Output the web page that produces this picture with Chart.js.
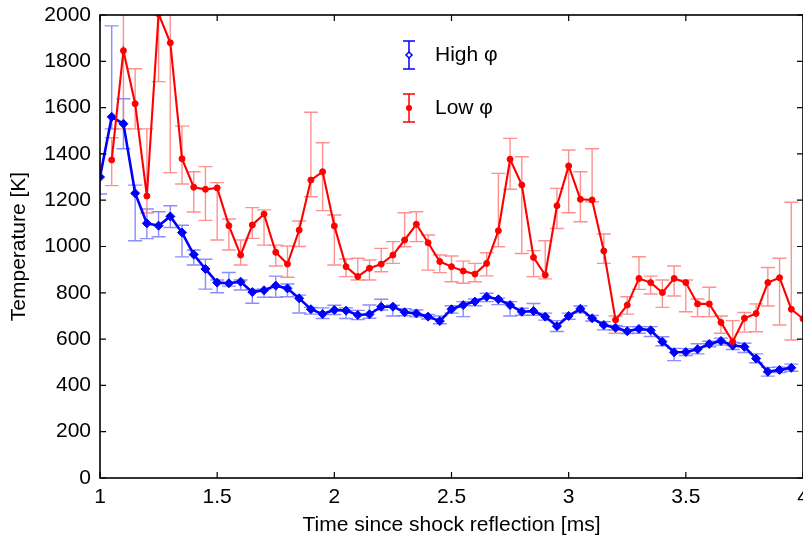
<!DOCTYPE html>
<html>
<head>
<meta charset="utf-8">
<script src="https://cdn.jsdelivr.net/npm/chart.js@4.4.1/dist/chart.umd.min.js"></script>
<style>
    html, body { margin: 0; padding: 0; background: #fff; overflow: hidden; }
    #wrap { position: relative; width: 823px; height: 543px; }
</style>
</head>
<body>
<div id="wrap"><canvas id="tempChart"></canvas></div>
<script>
// time since shock reflection [ms]
const times = [1.00,1.05,1.10,1.15,1.20,1.25,1.30,1.35,1.40,1.45,
               1.50,1.55,1.60,1.65,1.70,1.75,1.80,1.85,1.90,1.95,
               2.00,2.05,2.10,2.15,2.20,2.25,2.30,2.35,2.40,2.45,
               2.50,2.55,2.60,2.65,2.70,2.75,2.80,2.85,2.90,2.95,
               3.00,3.05,3.10,3.15,3.20,3.25,3.30,3.35,3.40,3.45,
               3.50,3.55,3.60,3.65,3.70,3.75,3.80,3.85,3.90,3.95,
               4.00];

// High phi temperature [K] and error bar extents
const highPhi = [1300,1560,1530,1230,1100,1090,1130,1060,965,903,
                 844,841,848,803,811,831,819,776,729,708,
                 726,723,704,707,740,740,716,711,697,678,
                 729,747,762,783,772,747,718,721,697,656,
                 700,731,690,661,649,634,644,638,589,543,
                 544,556,579,592,572,567,516,459,467,476,
                 null];
const highPlus = [100,393,108,35,62,60,46,32,20,42,
                  11,47,7,12,5,41,19,14,8,27,
                  20,12,20,40,32,6,15,15,10,22,
                  15,15,11,15,5,15,15,33,15,24,
                  12,12,12,14,10,20,10,16,21,17,
                  15,24,12,12,13,15,20,19,12,16,
                  null];
const highMinus = [73,52,108,205,66,48,48,105,45,87,
                   44,12,36,48,30,50,36,63,21,19,
                   20,34,20,17,14,40,15,15,10,12,
                   17,50,18,21,23,47,15,18,15,23,
                   14,17,12,21,10,10,19,27,18,36,
                   15,20,12,18,17,25,18,19,12,15,
                   null];

// Low phi temperature [K] and error bar extents
const lowPhi = [null,1374,1846,1617,1218,2005,1880,1379,1256,1247,
                1253,1090,963,1093,1140,975,924,1071,1287,1323,
                1089,913,870,906,924,963,1028,1096,1016,935,
                913,894,881,927,1068,1377,1266,953,877,1176,
                1348,1204,1201,981,683,747,862,844,801,862,
                844,752,752,672,589,690,711,844,865,729,
                688];
const lowPlus = [null,96,340,151,290,300,560,141,67,98,
                 23,29,65,75,18,31,78,39,293,125,
                 47,33,79,36,68,58,118,54,34,28,
                 46,43,46,46,248,90,122,29,148,75,
                 69,119,221,73,17,36,94,28,54,54,
                 11,21,72,28,91,25,41,65,84,462,
                 0];
const lowMinus = [null,111,338,109,73,293,561,109,107,134,
                  225,105,43,58,134,59,57,71,72,168,
                  169,43,15,51,33,36,29,75,118,48,
                  65,53,33,54,69,130,296,83,17,98,
                  202,97,8,54,58,39,47,49,64,76,
                  126,55,55,47,18,60,79,101,204,133,
                  0];

const xTicks = [1, 1.5, 2, 2.5, 3, 3.5, 4];
const yTicks = [0, 200, 400, 600, 800, 1000, 1200, 1400, 1600, 1800, 2000];

const FONT = 'Liberation Sans, Arial, Helvetica, sans-serif';

const toPoints = (ys) => times.map((t, i) => ({ x: t, y: ys[i] }));

const errorBars = {
    id: 'errorBars',
    beforeDatasetsDraw(chart) {
        const { ctx, chartArea: a, scales: { x, y } } = chart;
        ctx.save();
        ctx.beginPath();
        ctx.rect(a.left, a.top, a.right - a.left, a.bottom - a.top);
        ctx.clip();
        chart.data.datasets.forEach(ds => {
            ctx.strokeStyle = ds.errColor;
            ctx.lineWidth = 1.4;
            ds.data.forEach((p, i) => {
                if (p.y == null || !ds.errPlus[i] && !ds.errMinus[i]) return;
                const px = x.getPixelForValue(p.x);
                const top = y.getPixelForValue(p.y + ds.errPlus[i]);
                const bot = y.getPixelForValue(p.y - ds.errMinus[i]);
                ctx.beginPath();
                ctx.moveTo(px, top); ctx.lineTo(px, bot);
                ctx.moveTo(px - 7, top); ctx.lineTo(px + 7, top);
                ctx.moveTo(px - 7, bot); ctx.lineTo(px + 7, bot);
                ctx.stroke();
            });
        });
        ctx.restore();
    }
};

// box with inward ticks on all four sides
const frame = {
    id: 'frame',
    afterDraw(chart) {
        const { ctx, chartArea: a, scales: { x, y } } = chart;
        ctx.save();
        ctx.strokeStyle = '#000';
        ctx.lineWidth = 1.6;
        ctx.strokeRect(a.left, a.top, a.right - a.left, a.bottom - a.top);
        ctx.lineWidth = 1.2;
        ctx.beginPath();
        xTicks.forEach(v => {
            const px = x.getPixelForValue(v);
            ctx.moveTo(px, a.bottom); ctx.lineTo(px, a.bottom - 6);
            ctx.moveTo(px, a.top); ctx.lineTo(px, a.top + 6);
        });
        yTicks.forEach(v => {
            const py = y.getPixelForValue(v);
            ctx.moveTo(a.left, py); ctx.lineTo(a.left + 6, py);
            ctx.moveTo(a.right, py); ctx.lineTo(a.right - 6, py);
        });
        ctx.stroke();
        ctx.restore();
    }
};

const legendBox = {
    id: 'legendBox',
    afterDraw(chart) {
        const { ctx } = chart;
        const items = [
            { label: 'High φ', y: 55, color: '#0000ff', marker: 'diamond' },
            { label: 'Low φ', y: 108, color: '#ff0000', marker: 'dot' }
        ];
        ctx.save();
        items.forEach(it => {
            const cx = 409;
            ctx.strokeStyle = it.color;
            ctx.fillStyle = it.color;
            ctx.lineWidth = 1.5;
            ctx.beginPath();
            ctx.moveTo(cx, it.y - 14); ctx.lineTo(cx, it.y + 14);
            ctx.moveTo(cx - 6, it.y - 14); ctx.lineTo(cx + 6, it.y - 14);
            ctx.moveTo(cx - 6, it.y + 14); ctx.lineTo(cx + 6, it.y + 14);
            ctx.stroke();
            ctx.beginPath();
            if (it.marker === 'diamond') {
                ctx.moveTo(cx, it.y - 3); ctx.lineTo(cx + 3, it.y);
                ctx.lineTo(cx, it.y + 3); ctx.lineTo(cx - 3, it.y);
                ctx.closePath();
                ctx.fillStyle = '#fff';
                ctx.fill();
                ctx.stroke();
            } else {
                ctx.arc(cx, it.y, 3, 0, Math.PI * 2);
                ctx.fill();
            }
            ctx.fillStyle = '#000';
            ctx.font = '21px ' + FONT;
            ctx.textBaseline = 'middle';
            ctx.textAlign = 'left';
            ctx.fillText(it.label, 435, it.y);
        });
        ctx.restore();
    }
};

new Chart(document.getElementById('tempChart'), {
    type: 'line',
    data: {
        datasets: [
            {
                label: 'High φ',
                data: toPoints(highPhi),
                errPlus: highPlus, errMinus: highMinus,
                errColor: 'rgba(120,120,255,0.85)',
                borderColor: '#0000ff', backgroundColor: '#0000ff',
                borderWidth: 2.6, tension: 0,
                pointStyle: 'rectRot', pointRadius: 4.5, pointBorderWidth: 1,
                order: 1
            },
            {
                label: 'Low φ',
                data: toPoints(lowPhi),
                errPlus: lowPlus, errMinus: lowMinus,
                errColor: 'rgba(255,125,125,0.85)',
                borderColor: '#ff0000', backgroundColor: '#ff0000',
                borderWidth: 2.1, tension: 0,
                pointStyle: 'circle', pointRadius: 3, pointBorderWidth: 1,
                order: 0
            }
        ]
    },
    options: {
        responsive: true, maintainAspectRatio: false, animation: false,
        layout: { padding: { top: 15, right: 20, left: 0, bottom: 0 } },
        plugins: { legend: { display: false }, tooltip: { enabled: false } },
        scales: {
            x: {
                type: 'linear', min: 1, max: 4,
                grid: { display: false, drawTicks: false },
                border: { display: false },
                afterBuildTicks: s => { s.ticks = xTicks.map(v => ({ value: v })); },
                afterFit: s => { s.height = 65; s.paddingLeft = 0; s.paddingRight = 0; },
                ticks: { color: '#000', font: { family: FONT, size: 21 }, padding: 7, maxRotation: 0, autoSkip: false, callback: v => String(v) },
                title: { display: true, text: 'Time since shock reflection [ms]', color: '#000', font: { family: FONT, size: 21 }, padding: { top: 0, bottom: 5 } }
            },
            y: {
                min: 0, max: 2000,
                grid: { display: false, drawTicks: false },
                border: { display: false },
                afterBuildTicks: s => { s.ticks = yTicks.map(v => ({ value: v })); },
                afterFit: s => { s.width = 100; s.paddingTop = 0; s.paddingBottom = 0; },
                ticks: { color: '#000', font: { family: FONT, size: 21 }, padding: 9, autoSkip: false, callback: v => String(v) },
                title: { display: true, text: 'Temperature [K]', color: '#000', font: { family: FONT, size: 21 }, padding: { top: 7, bottom: 0 } }
            }
        }
    },
    plugins: [errorBars, frame, legendBox]
});
</script>
</body>
</html>
